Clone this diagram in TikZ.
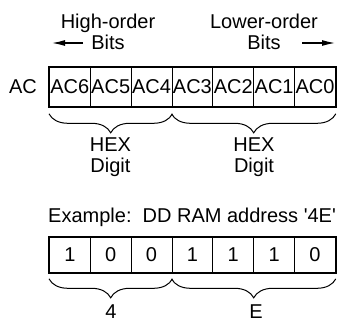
\documentclass[tikz,border=0pt]{standalone}
\usepackage{fontspec}
\newfontfamily\hv{Liberation Sans}
\usetikzlibrary{arrows.meta,decorations.pathreplacing}
\begin{document}
\begin{tikzpicture}[x=1pt,y=-1pt,
  every node/.style={font=\hv\fontsize{20}{21.5}\selectfont, inner sep=0pt},
  lbl/.style={align=center},
  cell/.style={draw, line width=0.8pt, minimum width=40.86pt, minimum height=39pt, anchor=north west},
  cellb/.style={draw, line width=0.8pt, minimum width=40.86pt, minimum height=35pt, anchor=north west},
  outer/.style={draw, line width=1.7pt},
  brc/.style={draw, line width=1pt, decorate, decoration={brace, mirror, amplitude=19pt, aspect=0.5}},
  arr/.style={line width=1.2pt, -{Latex[length=13pt,width=6pt]}}
]
\useasboundingbox (0,0) rectangle (339,322);

% headings
\node[lbl] (hi) at (108,32) {High-order\\Bits};
\node[lbl] (lo) at (264,32) {Lower-order\\Bits};
\coordinate (la1) at (83,43);
\coordinate (la2) at (52,43);
\coordinate (ra1) at (302,43);
\coordinate (ra2) at (335,43);
\draw[arr] (la1) -- (la2);
\draw[arr] (ra1) -- (ra2);

% AC register
\node (ac) at (23,87) {AC};
\foreach \i/\t in {0/AC6,1/AC5,2/AC4,3/AC3,4/AC2,5/AC1,6/AC0}
  \node[cell] (a\i) at ({49+\i*40.86},67) {\t};
\draw[outer] (a0.north west) rectangle (a6.south east);

\draw[brc] ([yshift=-7pt]a0.south west) -- ([yshift=-7pt]a2.south east);
\draw[brc] ([yshift=-7pt]a3.south west) -- ([yshift=-7pt]a6.south east);
\node[lbl] (h1) at (110.5,157) {HEX\\Digit};
\node[lbl] (h2) at (254,157) {HEX\\Digit};

% example
\node[anchor=west] (ex) at (48,217) {Example:\ \ DD RAM address '4E'};
\foreach \i/\t in {0/1,1/0,2/0,3/1,4/1,5/1,6/0}
  \node[cellb] (b\i) at ({49+\i*40.86},237) {\t};
\draw[outer] (b0.north west) rectangle (b6.south east);

\draw[brc] ([yshift=-6pt]b0.south west) -- ([yshift=-6pt]b2.south east);
\draw[brc] ([yshift=-6pt]b3.south west) -- ([yshift=-6pt]b6.south east);
\node (d4) at (111,312) {4};
\node (dE) at (256,312) {E};
\end{tikzpicture}
\end{document}
